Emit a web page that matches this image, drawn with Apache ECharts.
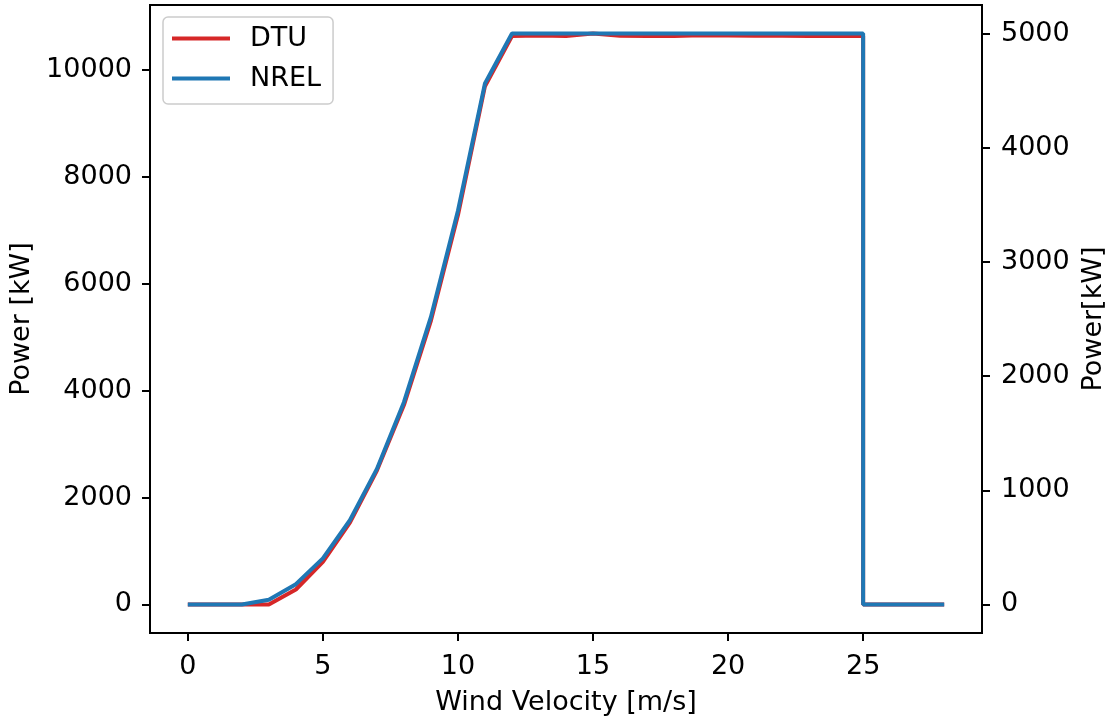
<!DOCTYPE html>
<html>
<head>
<meta charset="utf-8">
<script src="https://cdn.jsdelivr.net/npm/echarts@6/dist/echarts.min.js"></script>
<style>
  html, body { margin: 0; padding: 0; background: #fff; }
  #view { width: 1113px; height: 716px; }
</style>
</head>
<body>
<div id="view"></div>
<script>
// wind speed [m/s]; 25 appears twice for the cut-out drop
var windSpeed = [0, 1, 2, 3, 4, 5, 6, 7, 8, 9, 10, 11, 12, 13, 14, 15, 16, 17, 18, 19, 20, 21, 22, 23, 24, 25, 25, 26, 27, 28];
var dtuPower = [0, 0, 0, 0, 280.2, 799.1, 1532.7, 2506.1, 3730.7, 5311.8, 7286.5, 9698.3, 10639.1, 10648.5, 10639.3, 10683.7,
                10642, 10640, 10639.9, 10652.8, 10646.2, 10644, 10641.2, 10639.5, 10643.6, 10635.7, 0, 0, 0, 0];
var nrelPower = [0, 0, 0, 40.5, 177.7, 403.9, 737.6, 1187.2, 1771.1, 2518.6, 3448.4, 4562.5, 5000, 5000, 5000, 5000,
                 5000, 5000, 5000, 5000, 5000, 5000, 5000, 5000, 5000, 5000, 0, 0, 0, 0];
var xTicks = [0, 5, 10, 15, 20, 25];
var leftTicks = [0, 2000, 4000, 6000, 8000, 10000];
var rightTicks = [0, 1000, 2000, 3000, 4000, 5000];

function pairs(xs, ys) {
    return xs.map(function (x, i) { return [x, ys[i]]; });
}

var font = 'DejaVu Sans';
var txt = { fontFamily: font, fontSize: 27, color: '#000' };
var plain = function (v) { return String(v); };

var myChart = echarts.init(document.getElementById('view'));

var option = {
    animation: false,
    grid: {
        left: 150, right: 131, top: 5, bottom: 83,
        outerBoundsMode: 'none',
        containLabel: false,
        show: true, borderColor: '#000', borderWidth: 2
    },
    legend: {
        left: 163, top: 17,
        orient: 'vertical',
        padding: [8, 12, 12, 9],
        itemGap: 13,
        itemWidth: 58,
        itemHeight: 4,
        icon: 'rect',
        borderColor: '#cccccc',
        borderWidth: 1.5,
        borderRadius: 5,
        textStyle: { fontFamily: font, fontSize: 27, color: '#000', padding: [2, 0, 0, 15] },
        data: ['DTU', 'NREL']
    },
    xAxis: {
        type: 'value',
        min: -1.4, max: 29.4,
        name: 'Wind Velocity [m/s]',
        nameLocation: 'middle',
        nameGap: 56,
        nameTextStyle: txt,
        axisLine: { onZero: false, lineStyle: { color: '#000', width: 2 } },
        axisTick: { customValues: xTicks, length: 8, lineStyle: { color: '#000', width: 2 } },
        axisLabel: Object.assign({ customValues: xTicks, margin: 20, formatter: plain }, txt),
        splitLine: { show: false }
    },
    yAxis: [{
        type: 'value',
        min: -534, max: 11218,
        name: 'Power [kW]',
        nameLocation: 'middle',
        nameGap: 115,
        nameTextStyle: txt,
        axisLine: { show: true, onZero: false, lineStyle: { color: '#000', width: 2 } },
        axisTick: { show: true, customValues: leftTicks, length: 8, lineStyle: { color: '#000', width: 2 } },
        axisLabel: Object.assign({ customValues: leftTicks, margin: 18, padding: [3, 0, 0, 0], formatter: plain }, txt),
        splitLine: { show: false }
    }, {
        type: 'value',
        position: 'right',
        min: -250, max: 5250,
        name: 'Power[kW]',
        nameLocation: 'middle',
        nameGap: 98,
        nameTextStyle: txt,
        axisLine: { show: true, onZero: false, lineStyle: { color: '#000', width: 2 } },
        axisTick: { show: true, customValues: rightTicks, length: 8, lineStyle: { color: '#000', width: 2 } },
        axisLabel: Object.assign({ customValues: rightTicks, margin: 19, padding: [3, 0, 0, 0], formatter: plain }, txt),
        splitLine: { show: false }
    }],
    series: [{
        name: 'DTU',
        type: 'line',
        yAxisIndex: 0,
        symbol: 'none',
        color: '#d62728',
        lineStyle: { width: 4 },
        data: pairs(windSpeed, dtuPower)
    }, {
        name: 'NREL',
        type: 'line',
        yAxisIndex: 1,
        symbol: 'none',
        color: '#1f77b4',
        lineStyle: { width: 4 },
        data: pairs(windSpeed, nrelPower)
    }]
};

myChart.setOption(option);
</script>
</body>
</html>
